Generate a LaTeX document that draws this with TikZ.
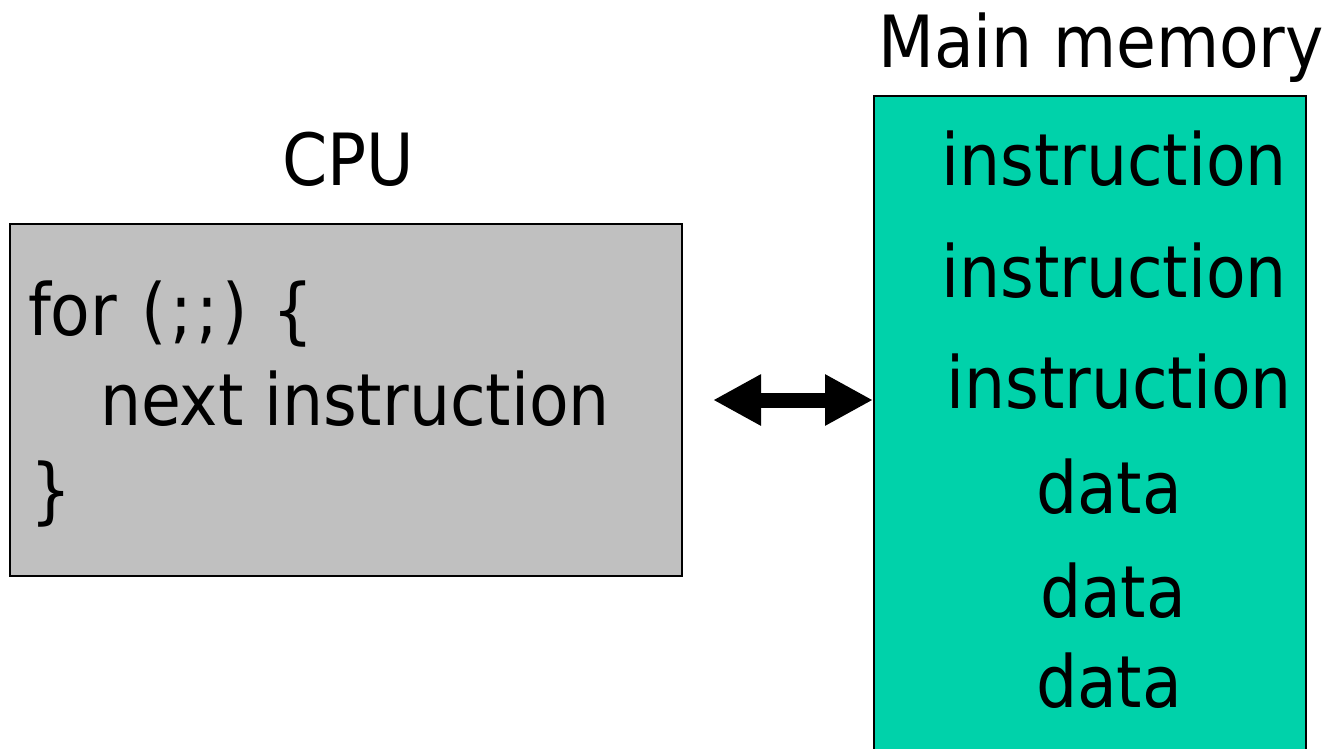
\documentclass[tikz,border=0pt]{standalone}
\usepackage{fontspec}
\setmainfont{DejaVu Sans Condensed}
\usetikzlibrary{arrows.meta}
\definecolor{cpugray}{HTML}{C0C0C0}
\definecolor{memteal}{HTML}{00D2AA}
\tikzset{
  txt/.style={inner sep=0pt, anchor=base west, font=\fontsize{72}{80}\selectfont},
  cpubox/.style={draw=black, line width=2pt, fill=cpugray, inner sep=0pt, anchor=north west},
  membox/.style={draw=black, line width=2pt, fill=memteal, inner sep=0pt, anchor=north west},
  bus/.style={line width=15pt, {Triangle[width=48pt,length=48pt]}-{Triangle[width=48pt,length=48pt]}}
}
\begin{document}
\begin{tikzpicture}[x=1pt,y=-1pt]
\useasboundingbox (0,0) rectangle (1330,748);
\clip (0,0) rectangle (1330,748);
\node[cpubox, minimum width=672pt, minimum height=352pt] (cpu) at (9,223) {};
\node[membox, minimum width=432pt, minimum height=700pt] (mem) at (873,95) {};
\node[txt] (cpulabel) at (282,185) {CPU};
\node[txt] (memlabel) at (878,67) {Main memory};
\node[txt] (l1) at (28,335) {for \kern4pt(\kern4pt;\kern4pt;\kern4pt) \kern4pt\{};
\node[txt] (l2) at (100,425) {next instruction};
\node[txt] (l3) at (30,515) {\}};
\node[txt] (m1) at (941,185) {instruction};
\node[txt] (m2) at (941,297) {instruction};
\node[txt] (m3) at (946,408) {instruction};
\node[txt] (m4) at (1036,513) {data};
\node[txt] (m5) at (1040,617) {data};
\node[txt] (m6) at (1036,707) {data};
\coordinate (busL) at (713,400);
\coordinate (busR) at (mem.west |- busL);
\draw[bus] (busL) -- (busR);
\end{tikzpicture}
\end{document}
